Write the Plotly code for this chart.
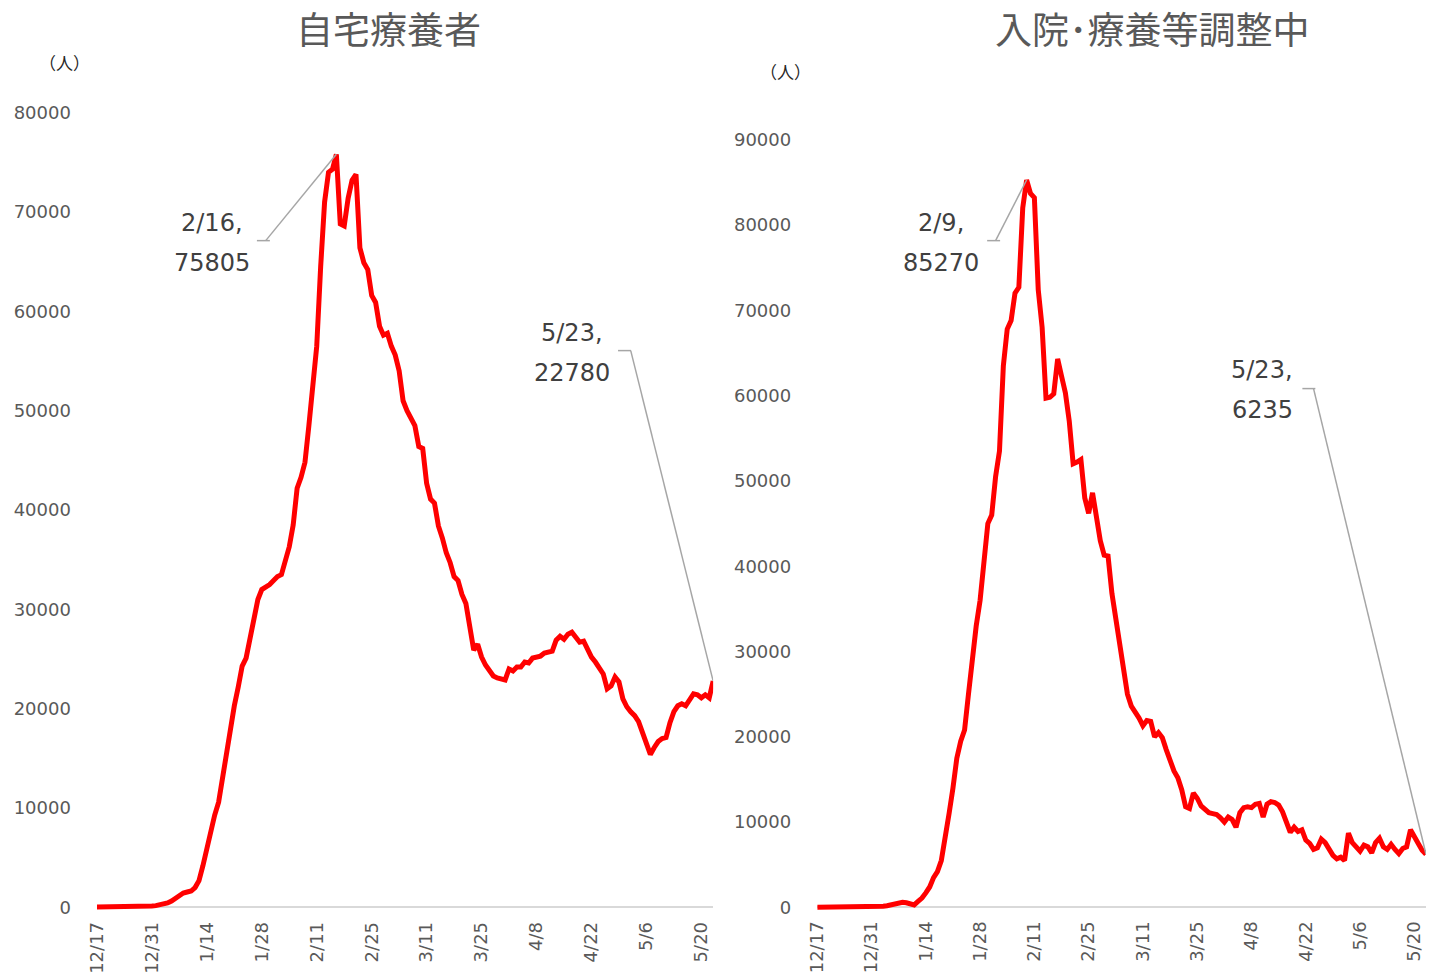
import datetime as dt
import plotly.graph_objects as go

# ---------------- data ----------------
start_date = "2021-12-17"
n_days = 158

home_care = [
    50, 50, 60, 60, 70, 70, 80, 80, 90, 100,
    110, 120, 130, 140, 150, 180, 230, 300, 450, 650,
    900, 1200, 1450, 1550, 1650, 2000, 2700, 4200, 6000, 7500,
    9300, 10600, 13000, 15900, 18200, 20300, 22200, 24300, 25100, 27300,
    29300, 31000, 32000, 32200, 32500, 32900, 33300, 33500, 35000, 36300,
    38500, 42200, 43300, 44800, 48500, 53000, 56500, 64500, 71000, 74000,
    74300, 75805, 68800, 68600, 71400, 73200, 73800, 66400, 64900, 64200,
    61600, 60900, 58500, 57600, 57800, 56500, 55600, 54000, 51000, 50000,
    49300, 48500, 46400, 46200, 42700, 41100, 40700, 38400, 37200, 35700,
    34700, 33300, 32900, 31500, 30600, 28200, 25900, 26500, 25200, 24400,
    23900, 23300, 23100, 23000, 22900, 24000, 23800, 24200, 24200, 24700,
    24600, 25100, 25200, 25300, 25600, 25700, 25800, 26900, 27300, 27000,
    27500, 27700, 27200, 26700, 26800, 26000, 25200, 24700, 24100, 23500,
    22000, 22300, 23200, 22700, 21000, 20200, 19700, 19300, 18700, 17500,
    16400, 15400, 16100, 16700, 17000, 17100, 18600, 19700, 20300, 20500,
    20300, 20800, 21500, 21400, 21100, 21400, 21100, 22780,
]

awaiting = [
    30, 30, 30, 30, 40, 40, 40, 40, 50, 50,
    50, 60, 60, 70, 80, 90, 100, 150, 200, 300,
    400, 550, 600, 550, 450, 300, 700, 1100, 1700, 2400,
    3500, 4200, 5500, 8000, 11000, 14000, 17500, 19500, 20800, 25000,
    29500, 33000, 36000, 41000, 45000, 46000, 50500, 53500, 63500, 67800,
    68800, 72000, 72700, 82000, 85270, 83700, 83200, 72400, 68000, 59700,
    59800, 60200, 64300, 62300, 60300, 57000, 52000, 52200, 52500, 48000,
    46200, 48600, 46000, 43000, 41300, 41200, 36800, 33800, 30800, 28500,
    25000, 23600, 23000, 22200, 21300, 21900, 21800, 20000, 20500, 19900,
    18500, 17000, 16000, 15200, 13800, 11800, 11600, 13400, 12800, 11900,
    11400, 11100, 11000, 10900, 10500, 10000, 10600, 10300, 9400, 11100,
    11700, 11800, 11700, 12100, 12200, 10600, 12100, 12400, 12300, 12000,
    11200, 9800, 8800, 9400, 8900, 9100, 7900, 7500, 6800, 7000,
    8000, 7600, 6800, 6100, 5700, 5900, 5500, 8700, 7600, 7000,
    6600, 7300, 7100, 6400, 7600, 8100, 7100, 6800, 7400, 6800,
    6300, 6900, 7100, 9100, 8400, 7500, 6700, 6235,
]

titles = ["自宅療養者", "入院･療養等調整中"]
unit_label = "（人）"
tick_step_days = 14

# ---------------- helpers ----------------
d0 = dt.date.fromisoformat(start_date)
dates = [d0 + dt.timedelta(days=i) for i in range(n_days)]
tick_dates = dates[::tick_step_days]
tick_text = [f"{d.month}/{d.day}" for d in tick_dates]

W, H = 1429, 976
RED = "#FF0000"
GRAY_TXT = "#595959"
LABEL_TXT = "#404040"
LEADER = "#A6A6A6"
FONT = "DejaVu Sans"
CJK = "Noto Sans CJK JP"

# layout positions below are given in target-picture pixels; these factors
# compensate the capture's inset so that the picture lands where intended
SX, BX = 0.9947, 8.5
SY, BY = 0.988, 10.3


def px(x):
    return ((x - BX) / SX) / W


def py(y):
    return 1 - ((y - BY) / SY) / H


# axis geometry (target pixels): first-day x, px per day, zero y, px per unit
geo = [
    dict(x0=97.0, ppd=(710.0 - 97.0) / 157, y0=907.0,
         ppu=(907.0 - 112.0) / 80000, ymin=-1000, ymax=80000),
    dict(x0=819.0, ppd=(1424.6 - 819.0) / 157, y0=907.0,
         ppu=(907.0 - 139.0) / 90000, ymin=-1100, ymax=90000),
]

fig = go.Figure()
series = [home_care, awaiting]
pad_days = 0.6

for i, (vals, g) in enumerate(zip(series, geo)):
    k = "" if i == 0 else str(i + 1)
    fig.add_trace(go.Scatter(
        x=dates, y=vals, mode="lines",
        line=dict(color=RED, width=5, shape="linear"),
        xaxis="x" + k, yaxis="y" + k, showlegend=False, hoverinfo="x+y",
    ))
    xl = g["x0"] - pad_days * g["ppd"]
    xr = g["x0"] + (n_days - 1 + pad_days) * g["ppd"]
    yb = g["y0"] + (-g["ymin"]) * g["ppu"]
    yt = g["y0"] - g["ymax"] * g["ppu"]
    xa = dict(
        domain=[px(xl), min(px(xr), 1.0)],
        range=[d0 - dt.timedelta(days=pad_days),
               dates[-1] + dt.timedelta(days=pad_days)],
        type="date",
        tickmode="array", tickvals=tick_dates, ticktext=tick_text,
        tickangle=-90, showgrid=False, zeroline=False, showline=False,
        ticks="", tickfont=dict(family=FONT, size=18, color=GRAY_TXT),
        anchor="y" + k, fixedrange=True,
    )
    ya = dict(
        domain=[py(yb), py(yt)],
        range=[g["ymin"], g["ymax"]],
        tick0=0, dtick=10000, showgrid=False,
        zeroline=True, zerolinecolor="#D9D9D9", zerolinewidth=1.5,
        showline=False, ticks="", ticklabelstandoff=25,
        tickfont=dict(family=FONT, size=18, color=GRAY_TXT),
        anchor="x" + k, fixedrange=True, tickformat="d",
    )
    fig.layout["xaxis" + k] = xa
    fig.layout["yaxis" + k] = ya

annotations = []
shapes = []

# titles
for cx, t in zip([387, 1153], titles):
    annotations.append(dict(
        x=px(cx), y=py(27), xref="paper", yref="paper", text=t,
        showarrow=False, xanchor="center", yanchor="middle",
        font=dict(family=CJK, size=37, color=GRAY_TXT)))

# unit labels
for cx, cy in [(62, 62), (785, 71)]:
    annotations.append(dict(
        x=px(cx), y=py(cy), xref="paper", yref="paper", text=unit_label,
        showarrow=False, xanchor="center", yanchor="middle",
        font=dict(family=CJK, size=17, color="#262626")))


# data labels with leader lines
def label(i, idx, text_cx, line1_cy, elbow_x0, elbow_x1, elbow_y):
    vals = series[i]
    g = geo[i]
    k = "" if i == 0 else str(i + 1)
    d = dates[idx]
    annotations.append(dict(
        x=px(text_cx), y=py(line1_cy), xref="paper", yref="paper",
        text=f"{d.month}/{d.day},", showarrow=False, xanchor="center",
        yanchor="middle", font=dict(family=FONT, size=24, color=LABEL_TXT)))
    annotations.append(dict(
        x=px(text_cx), y=py(line1_cy + 40), xref="paper", yref="paper",
        text=f"{vals[idx]}", showarrow=False, xanchor="center",
        yanchor="middle", font=dict(family=FONT, size=24, color=LABEL_TXT)))
    shapes.append(dict(
        type="line", xref="paper", yref="paper",
        x0=px(elbow_x0), x1=px(elbow_x1), y0=py(elbow_y), y1=py(elbow_y),
        line=dict(color=LEADER, width=1.5)))
    # elbow point in data coordinates
    ex_days = (elbow_x1 - g["x0"]) / g["ppd"]
    ex = d0 + dt.timedelta(days=ex_days)
    ey = (g["y0"] - elbow_y) / g["ppu"]
    shapes.append(dict(
        type="line", xref="x" + k, yref="y" + k,
        x0=ex, y0=ey, x1=d, y1=vals[idx],
        line=dict(color=LEADER, width=1.5)))


peak_l = home_care.index(max(home_care))
peak_r = awaiting.index(max(awaiting))
label(0, peak_l, 210, 222, 255, 268, 240)
label(0, n_days - 1, 571, 332, 617, 630, 350)
label(1, peak_r, 941, 222, 987, 1000, 240)
label(1, n_days - 1, 1263, 369, 1303, 1316, 388)

fig.update_layout(
    autosize=True,
    margin=dict(l=0, r=0, t=0, b=0, pad=0),
    paper_bgcolor="white", plot_bgcolor="white",
    annotations=annotations, shapes=shapes,
    font=dict(family=FONT),
)

fig.write_html(
    "out.html",
    config=dict(displayModeBar=False, responsive=True),
    default_width="100vw",
    default_height="100vh",
    post_script=(
        "document.documentElement.style.margin='0';"
        "document.body.style.margin='0';"
        "document.body.style.padding='0';"
        "document.body.style.overflow='hidden';"
        "document.documentElement.style.overflow='hidden';"
        "var gd=document.getElementById('{plot_id}');"
        "gd.style.width='100vw';gd.style.height='100vh';"
        "Plotly.Plots.resize(gd);"
    ),
)
